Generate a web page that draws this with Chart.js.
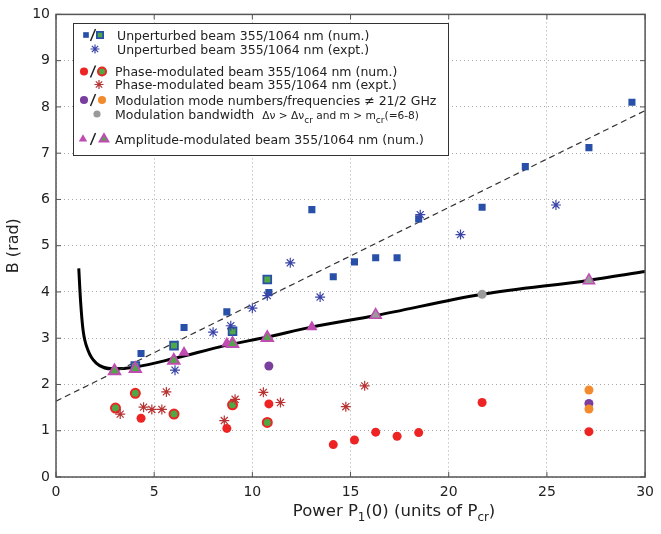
<!DOCTYPE html>
<html>
<head>
<meta charset="utf-8">
<script src="https://cdn.jsdelivr.net/npm/chart.js@4.4.0/dist/chart.umd.min.js"></script>
<style>
  html, body { margin: 0; padding: 0; background: #fff; }
</style>
</head>
<body>
<canvas id="chart" width="661" height="534"></canvas>
<script>
// ---- data ----
const xTickVals = [0, 5, 10, 15, 20, 25, 30];
const yTickVals = [0, 1, 2, 3, 4, 5, 6, 7, 8, 9, 10];

// unperturbed beam (num.), 355 nm (blue) / 1064 nm (green)
const blueSqX = [4.33, 6.52, 8.7, 10.84, 13.03, 14.12, 15.2, 16.28, 17.37, 18.47, 21.7, 23.9, 27.14, 29.33];
const blueSqY = [2.67, 3.23, 3.57, 3.99, 5.78, 4.33, 4.65, 4.74, 4.74, 5.58, 5.83, 6.71, 7.12, 8.10];
const greenSqX = [4.04, 6.01, 8.99, 10.76];
const greenSqY = [2.40, 2.84, 3.15, 4.27];
// unperturbed beam (expt.)
const blueStarX = [6.06, 8.0, 8.9, 10.0, 10.76, 11.93, 13.45, 18.55, 20.6, 25.46];
const blueStarY = [2.31, 3.13, 3.27, 3.65, 3.92, 4.63, 3.89, 5.67, 5.24, 5.88];
// phase-modulated beam (num.)
const redCircX = [4.33, 8.7, 10.84, 14.12, 15.2, 16.28, 17.37, 18.47, 21.7, 27.14];
const redCircY = [1.27, 1.05, 1.58, 0.70, 0.80, 0.97, 0.88, 0.96, 1.61, 0.98];
const redGreenX = [3.03, 4.04, 6.01, 8.99, 10.76];
const redGreenY = [1.49, 1.81, 1.36, 1.56, 1.18];
// phase-modulated beam (expt.)
const redStarX = [3.27, 4.46, 4.88, 5.39, 5.62, 8.57, 9.12, 10.56, 11.43, 14.76, 15.72];
const redStarY = [1.36, 1.51, 1.46, 1.46, 1.84, 1.22, 1.68, 1.83, 1.61, 1.52, 1.97];
// modulation mode numbers / frequencies
const purpleX = [10.84, 27.14];
const purpleY = [2.40, 1.59];
const orangeX = [27.14, 27.14];
const orangeY = [1.88, 1.47];
// modulation bandwidth
const greyX = [21.7];
const greyY = [3.95];
// amplitude-modulated beam (num.)
const magTriX = [6.52, 8.7, 13.03];
const magTriY = [2.69, 2.89, 3.24];
const greenTriX = [2.98, 4.04, 6.0, 8.99, 10.76];
const greenTriY = [2.29, 2.34, 2.52, 2.88, 3.01];
const greyTriX = [16.28, 27.14];
const greyTriY = [3.50, 4.25];
// theory curve and dashed fit
const curveX = [1.16, 1.25, 1.38, 1.63, 2.05, 2.9, 4.07, 6.0, 8.6, 10.7, 13.0, 16.28, 21.7, 27.1, 30];
const curveY = [4.51, 3.81, 3.17, 2.74, 2.46, 2.34, 2.38, 2.56, 2.84, 3.02, 3.24, 3.49, 3.95, 4.25, 4.44];
const dashX = [0, 30];
const dashY = [1.64, 7.92];

// legend text: [text, kind]  n = normal, k = small, s = subscript
const legendLabels = [
  [['Unperturbed beam 355/1064 nm (num.)', 'n']],
  [['Unperturbed beam 355/1064 nm (expt.)', 'n']],
  [['Phase-modulated beam 355/1064 nm (num.)', 'n']],
  [['Phase-modulated beam 355/1064 nm (expt.)', 'n']],
  [['Modulation mode numbers/frequencies \u2260 21/2 GHz', 'n']],
  [['Modulation bandwidth  ', 'n'], ['\u0394\u03bd > \u0394\u03bd', 'k'], ['cr', 's'], [' and m > m', 'k'], ['cr', 's'], ['(=6-8)', 'k']],
  [['Amplitude-modulated beam 355/1064 nm (num.)', 'n']]
];
const xTitle = [['Power P', 'n'], ['1', 's'], ['(0) (units of P', 'n'], ['cr', 's'], [')', 'n']];

const pts = (xs, ys) => xs.map((x, i) => ({ x: x, y: ys[i] }));

const BLUE = '#2850a8', GREEN = '#4fa845', RED = '#ee2424', MAG = '#c04cb2';

const datasets = [
  { label: 'blueSq', data: pts(blueSqX, blueSqY), pointStyle: 'rect', pointRadius: 5, backgroundColor: BLUE, borderColor: BLUE, borderWidth: 0, order: 14 },
  { label: 'greenSq', data: pts(greenSqX, greenSqY), pointStyle: 'rect', pointRadius: 5.5, backgroundColor: GREEN, borderColor: BLUE, borderWidth: 1.8, order: 13 },
  { label: 'blueStar', data: pts(blueStarX, blueStarY), pointStyle: 'star', pointRadius: 5, backgroundColor: '#3a44a8', borderColor: '#3a44a8', borderWidth: 1.2, order: 12 },
  { label: 'redCirc', data: pts(redCircX, redCircY), pointStyle: 'circle', pointRadius: 4.5, backgroundColor: RED, borderColor: RED, borderWidth: 0, order: 11 },
  { label: 'redGreen', data: pts(redGreenX, redGreenY), pointStyle: 'circle', pointRadius: 4.5, backgroundColor: GREEN, borderColor: RED, borderWidth: 2, order: 10 },
  { label: 'redStar', data: pts(redStarX, redStarY), pointStyle: 'star', pointRadius: 5, backgroundColor: '#b83232', borderColor: '#b83232', borderWidth: 1.2, order: 9 },
  { label: 'purple', data: pts(purpleX, purpleY), pointStyle: 'circle', pointRadius: 4.5, backgroundColor: '#7a3e9e', borderColor: '#7a3e9e', borderWidth: 0, order: 8 },
  { label: 'orange', data: pts(orangeX, orangeY), pointStyle: 'circle', pointRadius: 4.5, backgroundColor: '#f28a2e', borderColor: '#f28a2e', borderWidth: 0, order: 7 },
  { label: 'grey', data: pts(greyX, greyY), pointStyle: 'circle', pointRadius: 4.5, backgroundColor: '#9a9a9a', borderColor: '#9a9a9a', borderWidth: 0, order: 6 },
  { label: 'magTri', data: pts(magTriX, magTriY), pointStyle: 'triangle', pointRadius: 6.5, backgroundColor: MAG, borderColor: MAG, borderWidth: 0, order: 5 },
  { label: 'greenTri', data: pts(greenTriX, greenTriY), pointStyle: 'triangle', pointRadius: 6.5, backgroundColor: GREEN, borderColor: MAG, borderWidth: 2, order: 4 },
  { label: 'greyTri', data: pts(greyTriX, greyTriY), pointStyle: 'triangle', pointRadius: 6.5, backgroundColor: '#9a9a9a', borderColor: MAG, borderWidth: 1.5, order: 3 },
  { label: 'curve', data: pts(curveX, curveY), showLine: true, pointRadius: 0, borderColor: '#000', borderWidth: 3, cubicInterpolationMode: 'monotone', order: 20 },
  { label: 'dash', data: pts(dashX, dashY), showLine: true, pointRadius: 0, borderColor: '#333', borderWidth: 1.2, borderDash: [6, 4], order: 19 }
];
datasets.forEach(d => { d.pointHoverRadius = d.pointRadius; });

const FONT = "'DejaVu Sans', sans-serif";

function drawRich(ctx, segs, x, y, size, dry) {
  let cx = x;
  segs.forEach(([t, k]) => {
    let s = size, dy = 0;
    if (k === 'k') s = size * 0.85;
    if (k === 's') { s = size * 0.72; dy = size * 0.32; }
    ctx.font = s + 'px ' + FONT;
    if (!dry) ctx.fillText(t, cx, y + dy);
    cx += ctx.measureText(t).width;
  });
  return cx - x;
}

// frame round the axes with inward ticks
const framePlugin = {
  id: 'frame',
  afterDraw(chart) {
    const { ctx, chartArea: a, scales } = chart;
    ctx.save();
    ctx.strokeStyle = '#555';
    ctx.lineWidth = 1.5;
    ctx.strokeRect(a.left, a.top, a.right - a.left, a.bottom - a.top);
    ctx.lineWidth = 1;
    ctx.beginPath();
    xTickVals.forEach(v => {
      const px = scales.x.getPixelForValue(v);
      ctx.moveTo(px, a.bottom); ctx.lineTo(px, a.bottom - 5);
      ctx.moveTo(px, a.top); ctx.lineTo(px, a.top + 5);
    });
    yTickVals.forEach(v => {
      const py = scales.y.getPixelForValue(v);
      ctx.moveTo(a.left, py); ctx.lineTo(a.left + 5, py);
      ctx.moveTo(a.right, py); ctx.lineTo(a.right - 5, py);
    });
    ctx.stroke();

    // x axis title with subscripts
    ctx.fillStyle = '#222';
    ctx.textBaseline = 'alphabetic';
    ctx.textAlign = 'left';
    const w = drawRich(ctx, xTitle, 0, 0, 16.5, true);
    drawRich(ctx, xTitle, 394 - w / 2, 516, 16.5, false);
    ctx.restore();
  }
};

// legend box
const legendPlugin = {
  id: 'boxLegend',
  afterDraw(chart) {
    const ctx = chart.ctx;
    const ds = chart.data.datasets;
    const rowY = [35, 49, 71.5, 84.5, 100, 114, 139];
    const textX = [117, 117, 115, 115, 115, 115, 115];
    const marks = [[[0, 86], [1, 100]], [[2, 95]], [[3, 84], [4, 102]], [[5, 99]], [[6, 84], [7, 102]], [[8, 97]], [[9, 83], [10, 104]]];
    const scale = [0.8, 0.9, 0.9, 0.9, 0.9, 0.8, 0.75];
    ctx.save();
    ctx.fillStyle = '#fff';
    ctx.fillRect(73, 23, 375, 132);
    ctx.strokeStyle = '#333';
    ctx.lineWidth = 1;
    ctx.strokeRect(73.5, 23.5, 375, 132);
    legendLabels.forEach((segs, i) => {
      const y = rowY[i];
      marks[i].forEach(([di, x]) => {
        const d = ds[di];
        ctx.fillStyle = d.backgroundColor;
        ctx.strokeStyle = d.borderColor;
        ctx.lineWidth = d.borderWidth || 1;
        Chart.helpers.drawPoint(ctx, {
          pointStyle: d.pointStyle, radius: d.pointRadius * scale[i], rotation: 0,
          borderWidth: d.pointStyle === 'star' ? 1.2 : d.borderWidth
        }, x, y);
      });
      if (marks[i].length > 1) {
        ctx.strokeStyle = '#222';
        ctx.lineWidth = 1.5;
        ctx.beginPath();
        ctx.moveTo(90.5, y + 6); ctx.lineTo(95.5, y - 6);
        ctx.stroke();
      }
      ctx.fillStyle = '#222';
      ctx.textBaseline = 'alphabetic';
      drawRich(ctx, segs, textX[i], y + 4.5, 12.5, false);
    });
    ctx.restore();
  }
};

new Chart(document.getElementById('chart'), {
  type: 'scatter',
  data: { datasets: datasets },
  options: {
    responsive: false,
    devicePixelRatio: 1,
    animation: false,
    events: [],
    layout: { padding: { top: 11, right: 11, left: 0, bottom: 0 } },
    plugins: { legend: { display: false }, tooltip: { enabled: false } },
    scales: {
      x: {
        type: 'linear', min: 0, max: 30,
        afterBuildTicks: s => { s.ticks = xTickVals.map(v => ({ value: v })); },
        afterFit: s => { s.height = 57; },
        grid: { color: '#a8a8a8', lineWidth: 1, drawTicks: false, tickBorderDash: [], borderDash: [1, 3] },
        border: { display: false, dash: [1, 3] },
        ticks: { color: '#222', padding: 7, font: { family: FONT, size: 14 }, maxRotation: 0 }
      },
      y: {
        type: 'linear', min: 0, max: 10,
        afterBuildTicks: s => { s.ticks = yTickVals.map(v => ({ value: v })); },
        afterFit: s => { s.width = 56; },
        grid: { color: '#a8a8a8', lineWidth: 1, drawTicks: false },
        border: { display: false, dash: [1, 3] },
        ticks: { color: '#222', padding: 6, font: { family: FONT, size: 14 } },
        title: { display: true, text: 'B (rad)', color: '#222', font: { family: FONT, size: 16 }, padding: { top: 4, bottom: 0 } }
      }
    }
  },
  plugins: [framePlugin, legendPlugin]
});
</script>
</body>
</html>
